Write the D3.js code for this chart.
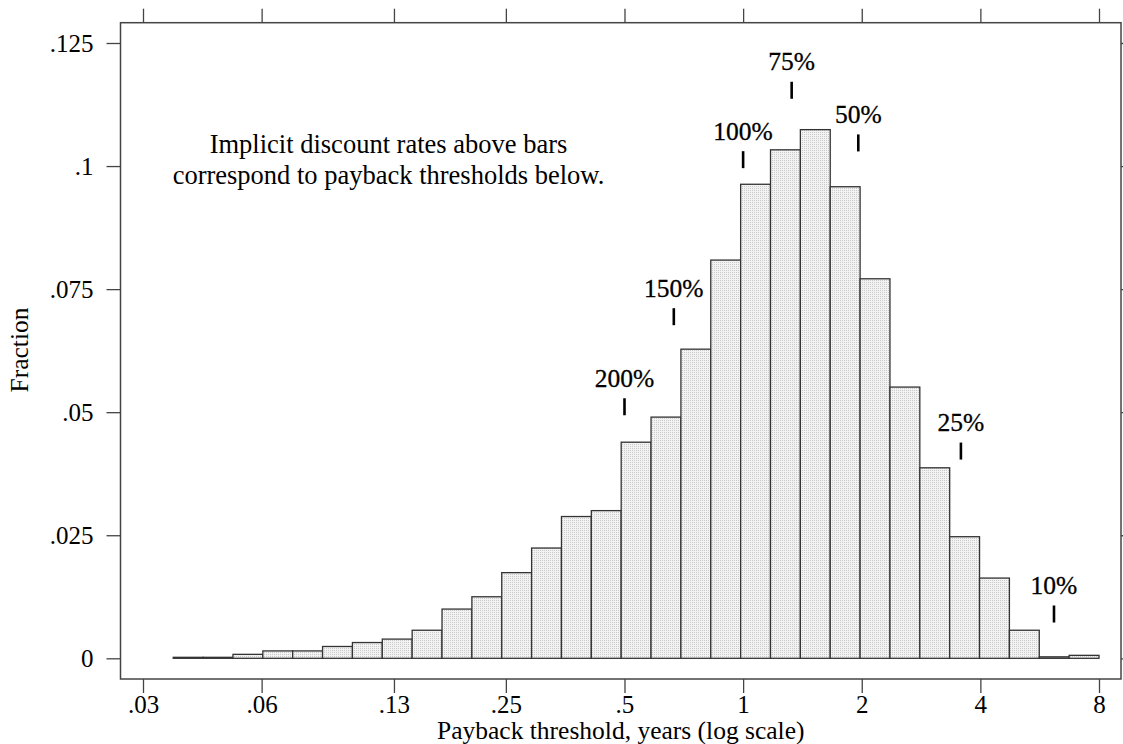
<!DOCTYPE html>
<html>
<head>
<meta charset="utf-8">
<script src="https://cdn.jsdelivr.net/npm/d3@7"></script>
<style>
  body { margin: 0; background: #fff; }
  text { font-family: "Liberation Serif", "Times New Roman", serif; fill: #000; }
</style>
</head>
<body>
<script>
// histogram: 31 equal-width bins on a log scale, lower edge of first bin to upper edge of last
var binLow = 0.0358;
var binHigh = 8;
var fractions = [0.0002, 0.0002, 0.0008, 0.0015, 0.0015, 0.0024, 0.0032, 0.0039, 0.0057, 0.0100,
  0.0125, 0.0174, 0.0224, 0.0288, 0.0300, 0.0439, 0.0490, 0.0628, 0.0809, 0.0963,
  0.1033, 0.1074, 0.0958, 0.0771, 0.0551, 0.0387, 0.0247, 0.0163, 0.0057, 0.0003, 0.0006];

// axis ticks
var xTicks = [0.03, 0.06, 0.13, 0.25, 0.5, 1, 2, 4, 8];
var xTickLabels = [".03", ".06", ".13", ".25", ".5", "1", "2", "4", "8"];
var yTicks = [0, 0.025, 0.05, 0.075, 0.1, 0.125];
var yTickLabels = ["0", ".025", ".05", ".075", ".1", ".125"];

// discount rate markers
var rateLabels = ["200%", "150%", "100%", "75%", "50%", "25%", "10%"];
var ratePayback = [0.5, 0.667, 1.0, 1.328, 1.96, 3.57, 6.15];
var rateHeight = [0.0511, 0.0694, 0.1013, 0.1154, 0.1047, 0.0421, 0.0090];

var noteLines = ["Implicit discount rates above bars", "correspond to payback thresholds below."];

var svgWidth = 1123, svgHeight = 744;
var frame = {left: 120.5, right: 1121, top: 22.7, bottom: 679};

var svg = d3.select("body").append("svg")
  .attr("width", svgWidth)
  .attr("height", svgHeight);

// stipple fill like the original
var pat = svg.append("defs").append("pattern")
  .attr("id", "dots")
  .attr("width", 2).attr("height", 2)
  .attr("patternUnits", "userSpaceOnUse");
pat.append("rect").attr("width", 2).attr("height", 2).attr("fill", "#f3f3f3");
pat.append("rect").attr("width", 1).attr("height", 1).attr("fill", "#c9c9c9");

var x = d3.scaleLog().base(2).domain([0.03, 8]).range([143, 1099]);
var y = d3.scaleLinear().domain([0, 0.125]).range([658.3, 43]);

// bin edges
var lo = Math.log2(binLow), step = (Math.log2(binHigh) - lo) / fractions.length;
var bins = fractions.map(function(f, i) {
  return {x0: Math.pow(2, lo + i * step), x1: Math.pow(2, lo + (i + 1) * step), f: f};
});

// frame
svg.append("rect")
  .attr("x", frame.left).attr("y", frame.top)
  .attr("width", frame.right - frame.left)
  .attr("height", frame.bottom - frame.top)
  .attr("fill", "none")
  .attr("stroke", "#444")
  .attr("stroke-width", 1.5);

// bars
svg.selectAll(".bar")
  .data(bins)
  .enter()
  .append("rect")
  .attr("class", "bar")
  .attr("x", d => x(d.x0))
  .attr("width", d => x(d.x1) - x(d.x0))
  .attr("y", d => y(d.f))
  .attr("height", d => y(0) - y(d.f))
  .attr("fill", "url(#dots)")
  .attr("stroke", "#333")
  .attr("stroke-width", 1.3);

// axes
function styleAxis(g) {
  g.select(".domain").remove();
  g.selectAll(".tick line").attr("stroke", "#444").attr("stroke-width", 1.3);
  g.selectAll(".tick text").attr("font-size", "25px").attr("font-family", "Liberation Serif").attr("fill", "#000");
}

svg.append("g")
  .attr("transform", `translate(0, ${frame.bottom})`)
  .call(d3.axisBottom(x).tickValues(xTicks).tickSize(14).tickPadding(2.5)
    .tickFormat((d, i) => xTickLabels[i]))
  .call(styleAxis);

svg.append("g")
  .attr("transform", `translate(0, ${frame.top})`)
  .call(d3.axisTop(x).tickValues(xTicks).tickSize(14).tickFormat(""))
  .call(styleAxis);

svg.append("g")
  .attr("transform", `translate(${frame.left}, 0)`)
  .call(d3.axisLeft(y).tickValues(yTicks).tickSize(14).tickPadding(13)
    .tickFormat((d, i) => yTickLabels[i]))
  .call(styleAxis);

svg.append("g")
  .attr("transform", `translate(${frame.right}, 0)`)
  .call(d3.axisRight(y).tickValues(yTicks).tickSize(14).tickFormat(""))
  .call(styleAxis);

// rate markers and labels
var marks = rateLabels.map(function(l, i) {
  return {label: l, px: ratePayback[i], fy: rateHeight[i]};
});

svg.selectAll(".rateTick")
  .data(marks)
  .enter()
  .append("line")
  .attr("class", "rateTick")
  .attr("x1", d => x(d.px)).attr("x2", d => x(d.px))
  .attr("y1", d => y(d.fy) - 8.5).attr("y2", d => y(d.fy) + 8.5)
  .attr("stroke", "#000")
  .attr("stroke-width", 2.6);

svg.selectAll(".rateText")
  .data(marks)
  .enter()
  .append("text")
  .attr("class", "rateText")
  .attr("x", d => x(d.px))
  .attr("y", d => y(d.fy) - 20)
  .attr("text-anchor", "middle")
  .attr("font-size", "25.5px")
  .attr("stroke", "#000")
  .attr("stroke-width", 0.3)
  .text(d => d.label);

// note
svg.append("text")
  .attr("x", 388.5)
  .attr("y", 153.3)
  .attr("text-anchor", "middle")
  .attr("font-size", "26.5px")
  .selectAll("tspan")
  .data(noteLines)
  .enter()
  .append("tspan")
  .attr("x", 388.5)
  .attr("dy", (d, i) => i === 0 ? 0 : 31)
  .text(d => d);

// axis titles
svg.append("text")
  .attr("x", (frame.left + frame.right) / 2)
  .attr("y", 739)
  .attr("text-anchor", "middle")
  .attr("font-size", "25.5px")
  .text("Payback threshold, years (log scale)");

svg.append("text")
  .attr("transform", "rotate(-90)")
  .attr("x", -350)
  .attr("y", 28)
  .attr("text-anchor", "middle")
  .attr("font-size", "25.5px")
  .text("Fraction");
</script>
</body>
</html>
